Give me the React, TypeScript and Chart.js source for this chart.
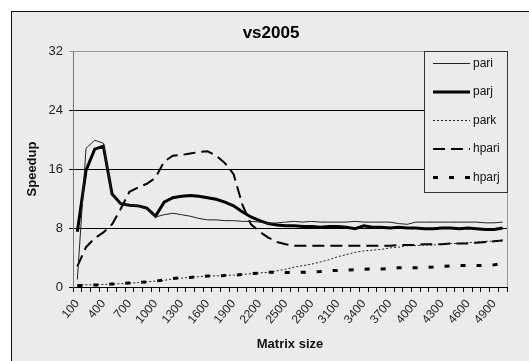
import React, { useEffect, useRef } from 'react';
import { Chart, registerables } from 'chart.js';

Chart.register(...registerables);

const matrixSizes = [
  '100', '200', '300', '400', '500', '600', '700', '800', '900', '1000',
  '1100', '1200', '1300', '1400', '1500', '1600', '1700', '1800', '1900', '2000',
  '2100', '2200', '2300', '2400', '2500', '2600', '2700', '2800', '2900', '3000',
  '3100', '3200', '3300', '3400', '3500', '3600', '3700', '3800', '3900', '4000',
  '4100', '4200', '4300', '4400', '4500', '4600', '4700', '4800', '4900', '5000',
];

const pari = [
  1.0, 18.8, 19.9, 19.5, 12.5, 11.3, 11.1, 11.0, 10.6, 9.5,
  9.8, 10.0, 9.8, 9.6, 9.3, 9.1, 9.1, 9.0, 9.0, 8.9,
  8.9, 8.8, 8.6, 8.7, 8.8, 8.9, 8.8, 8.9, 8.8, 8.8,
  8.8, 8.8, 8.9, 8.8, 8.8, 8.8, 8.8, 8.6, 8.5, 8.8,
  8.8, 8.8, 8.8, 8.8, 8.8, 8.8, 8.8, 8.7, 8.7, 8.8,
];

const parj = [
  7.5, 15.8, 18.7, 19.1, 12.6, 11.3, 11.1, 11.0, 10.7, 9.6,
  11.5, 12.1, 12.3, 12.4, 12.3, 12.1, 11.9, 11.5, 11.0, 10.2,
  9.5, 9.0, 8.6, 8.4, 8.3, 8.3, 8.2, 8.2, 8.1, 8.2,
  8.2, 8.1, 7.9, 8.3, 8.1, 8.1, 8.0, 8.1, 8.0, 8.0,
  7.9, 7.9, 8.0, 8.0, 7.9, 8.0, 7.9, 7.8, 7.8, 8.0,
];

const park = [
  0.3, 0.3, 0.3, 0.35, 0.4, 0.45, 0.5, 0.6, 0.7, 0.8,
  0.9, 1.1, 1.2, 1.3, 1.4, 1.5, 1.5, 1.6, 1.6, 1.7,
  1.8, 1.9, 2.0, 2.2, 2.4, 2.7, 2.9, 3.1, 3.4, 3.7,
  4.1, 4.4, 4.7, 4.9, 5.0, 5.1, 5.3, 5.4, 5.6, 5.6,
  5.7, 5.7, 5.8, 5.9, 5.9, 6.0, 6.1, 6.2, 6.2, 6.4,
];

const hpari = [
  2.8, 5.4, 6.6, 7.4, 8.5, 10.6, 12.9, 13.5, 14.0, 14.8,
  17.0, 17.8, 17.9, 18.1, 18.3, 18.4, 17.8, 16.8, 15.3, 11.2,
  8.5, 7.5, 6.7, 6.1, 5.8, 5.6, 5.6, 5.6, 5.6, 5.6,
  5.6, 5.6, 5.6, 5.6, 5.6, 5.6, 5.6, 5.7, 5.7, 5.7,
  5.8, 5.8, 5.8, 5.9, 5.9, 5.9, 6.0, 6.1, 6.2, 6.3,
];

const hparj = [
  0.2, 0.2, 0.27, 0.3, 0.4, 0.45, 0.55, 0.6, 0.7, 0.8,
  0.95, 1.15, 1.25, 1.3, 1.4, 1.5, 1.5, 1.55, 1.6, 1.7,
  1.8, 1.9, 2.0, 2.0, 1.95, 1.95, 2.0, 2.05, 2.1, 2.2,
  2.25, 2.3, 2.35, 2.4, 2.45, 2.45, 2.5, 2.6, 2.6, 2.6,
  2.65, 2.7, 2.8, 2.85, 2.9, 2.9, 2.9, 2.95, 3.0, 3.2,
];

const yTicks = [0, 8, 16, 24, 32];

const FONT = "'Liberation Sans', Arial, sans-serif";
const BG = '#ebebeb';

const framePlugin = {
  id: 'frameAndLegend',
  beforeDraw(chart: any) {
    const ctx = chart.ctx;
    ctx.save();
    ctx.fillStyle = '#ffffff';
    ctx.fillRect(0, 0, chart.width, chart.height);
    ctx.fillStyle = BG;
    ctx.fillRect(11, 11, chart.width + 10, chart.height + 10);
    ctx.strokeStyle = '#111';
    ctx.lineWidth = 1;
    ctx.strokeRect(11.5, 11.5, chart.width + 10, chart.height + 10);
    ctx.fillStyle = '#000';
    ctx.font = `bold 17px ${FONT}`;
    ctx.textAlign = 'center';
    ctx.textBaseline = 'middle';
    ctx.fillText('vs2005', 271, 33);
    ctx.restore();
  },
  beforeDatasetsDraw(chart: any) {
    const { ctx, chartArea } = chart;
    ctx.save();
    ctx.strokeStyle = '#999';
    ctx.lineWidth = 1;
    ctx.beginPath();
    ctx.moveTo(Math.round(chartArea.right) + 0.5, chartArea.top);
    ctx.lineTo(Math.round(chartArea.right) + 0.5, chartArea.bottom);
    ctx.stroke();
    ctx.restore();
  },
  afterDraw(chart: any) {
    const { ctx, chartArea } = chart;
    const right = Math.round(chartArea.right);
    const left = right - 83;
    const top = Math.round(chartArea.top);
    const bottom = top + 141;
    ctx.save();
    ctx.fillStyle = BG;
    ctx.fillRect(left, top, right - left, bottom - top);
    ctx.strokeStyle = '#333';
    ctx.lineWidth = 1;
    ctx.strokeRect(left + 0.5, top + 0.5, right - left, bottom - top);
    chart.data.datasets.forEach((ds: any, i: number) => {
      const y = top + 12.5 + i * 28.5;
      ctx.strokeStyle = ds.borderColor;
      ctx.lineWidth = ds.borderWidth;
      ctx.setLineDash(ds.borderDash || []);
      ctx.beginPath();
      ctx.moveTo(left + 9, y);
      ctx.lineTo(left + 46, y);
      ctx.stroke();
      ctx.setLineDash([]);
      ctx.fillStyle = '#111';
      ctx.font = `12px ${FONT}`;
      ctx.textAlign = 'left';
      ctx.textBaseline = 'middle';
      ctx.fillText(ds.label, left + 49, y);
    });
    ctx.restore();
  },
};

export default function App() {
  const canvasRef = useRef<HTMLCanvasElement | null>(null);

  useEffect(() => {
    const canvas = canvasRef.current;
    if (!canvas) return;
    const chart = new Chart(canvas, {
      type: 'line',
      data: {
        labels: matrixSizes,
        datasets: [
          { label: 'pari', data: pari, borderColor: '#222', borderWidth: 1, borderDash: [] },
          { label: 'parj', data: parj, borderColor: '#000', borderWidth: 3, borderDash: [] },
          { label: 'park', data: park, borderColor: '#222', borderWidth: 1, borderDash: [2, 2] },
          { label: 'hpari', data: hpari, borderColor: '#000', borderWidth: 2, borderDash: [12, 6] },
          { label: 'hparj', data: hparj, borderColor: '#000', borderWidth: 3, borderDash: [5, 11] },
        ].map((d) => ({ ...d, pointRadius: 0, tension: 0, fill: false, backgroundColor: d.borderColor })),
      },
      options: {
        animation: false,
        responsive: false,
        devicePixelRatio: 1,
        layout: { padding: { top: 51, right: 22, left: 0, bottom: 0 } },
        plugins: {
          legend: { display: false },
          title: { display: false },
          tooltip: { enabled: false },
        },
        scales: {
          x: {
            offset: true,
            afterFit: (scale: any) => { scale.height = 74; },
            grid: {
              offset: true,
              drawOnChartArea: false,
              drawTicks: true,
              tickLength: 5,
              color: '#000',
            },
            border: { display: true, color: '#000', width: 1 },
            ticks: {
              autoSkip: false,
              maxRotation: 50,
              minRotation: 50,
              color: '#222',
              padding: 5,
              font: { family: FONT, size: 12 },
              callback: (_v: any, i: number) => (i % 3 === 0 ? matrixSizes[i] : ''),
            },
            title: {
              display: true,
              text: 'Matrix size',
              color: '#111',
              font: { family: FONT, size: 13, weight: 'bold' },
              padding: { top: 0, bottom: 9 },
            },
          },
          y: {
            min: 0,
            max: 32,
            afterFit: (scale: any) => { scale.width = 73; },
            afterBuildTicks: (scale: any) => { scale.ticks = yTicks.map((v) => ({ value: v })); },
            grid: {
              drawTicks: true,
              tickLength: 4,
              color: (c: any) => (c.tick && c.tick.value === 32 ? '#999' : '#000'),
            },
            border: { display: true, color: '#777', width: 1 },
            ticks: {
              color: '#222',
              padding: 6,
              font: { family: FONT, size: 13 },
            },
            title: {
              display: true,
              text: 'Speedup',
              color: '#111',
              font: { family: FONT, size: 13, weight: 'bold' },
              padding: { top: 25, bottom: 0 },
            },
          },
        },
      },
      plugins: [framePlugin],
    } as any);
    return () => chart.destroy();
  }, []);

  return (
    <div style={{ position: 'absolute', left: 0, top: 0, width: 529, height: 361 }}>
      <canvas ref={canvasRef} width={529} height={361} style={{ display: 'block' }} />
    </div>
  );
}
